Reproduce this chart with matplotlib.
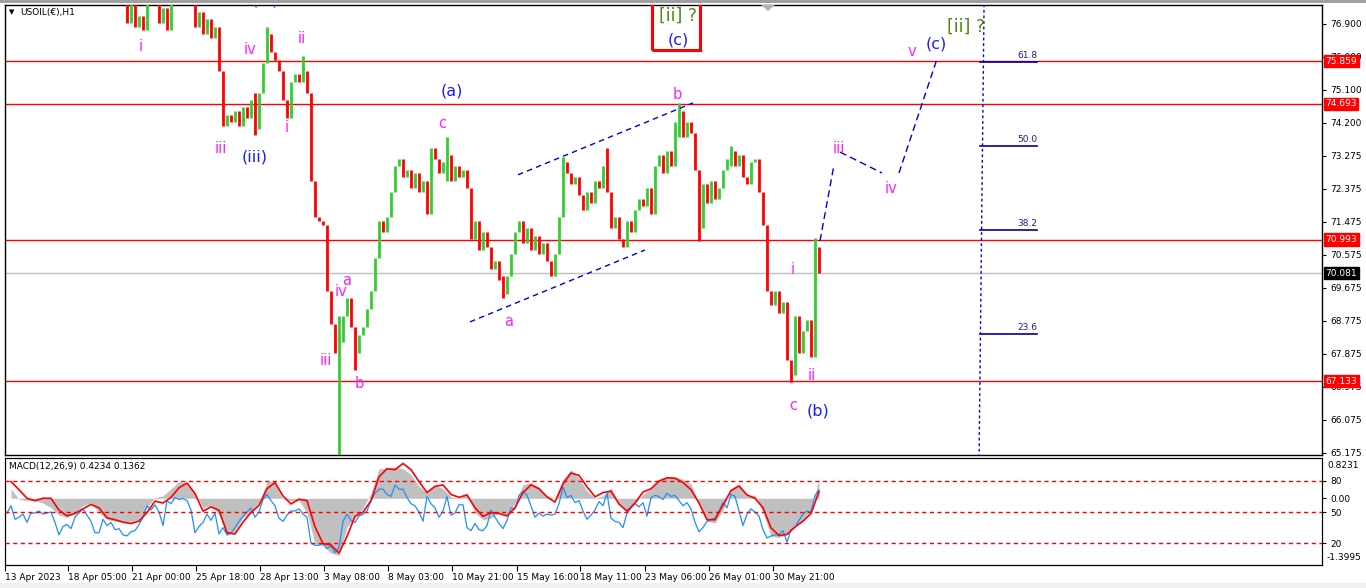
"""USOIL(€) H1 Elliott-wave chart with MACD panel, MT4 look."""

import matplotlib

matplotlib.use("Agg")
import matplotlib.pyplot as plt  # noqa: E402
import numpy as np  # noqa: E402
from matplotlib.collections import LineCollection  # noqa: E402
from matplotlib.patches import Polygon, Rectangle  # noqa: E402
from matplotlib.transforms import blended_transform_factory  # noqa: E402

# ---- data (one bar = 4 hourly candles) ---------------------------------
closes = [
    78.6, 78.9, 78.4, 78.7, 79.0, 78.8, 78.5, 78.9, 79.1, 78.7,
    78.4, 78.8, 78.6, 78.3, 78.7, 78.9, 78.5, 78.2, 78.6, 78.4,
    78.1, 78.5, 78.3, 78.0, 78.4, 78.2, 77.9, 78.3, 78.1, 77.8,
    76.9, 77.5, 76.8, 77.1, 76.7, 77.6, 77.9, 77.8, 76.9, 77.3,
    76.7, 77.6, 78.0, 77.9, 78.1, 77.8, 77.6, 76.8, 77.2, 76.6,
    77.0, 76.5, 76.8, 75.6, 74.1, 74.4, 74.2, 74.5, 74.1, 74.6,
    74.3, 74.8, 74.0, 75.0, 75.8, 76.6, 76.1, 75.9, 75.6, 74.8,
    74.3, 75.3, 75.5, 75.3, 75.6, 75.0, 72.6, 71.6, 71.5, 71.4,
    69.6, 68.7, 67.9, 68.2, 68.9, 69.4, 68.6, 67.9, 68.4, 68.6,
    69.1, 69.6, 70.5, 71.5, 71.2, 71.6, 72.3, 73.0, 73.2, 72.7,
    72.9, 72.4, 72.8, 72.3, 72.6, 71.7, 73.5, 73.2, 72.8, 73.1,
    73.3, 72.6, 73.0, 72.7, 72.9, 72.4, 71.0, 71.5, 70.7, 71.2,
    70.8, 70.2, 70.4, 69.9, 69.5, 70.0, 70.6, 71.2, 71.5, 70.9,
    71.3, 70.7, 71.1, 70.6, 70.9, 70.4, 70.0, 70.6, 71.6, 73.1,
    72.8, 72.5, 72.7, 72.2, 71.8, 72.3, 72.0, 72.6, 72.4, 73.0,
    72.3, 71.3, 71.6, 71.0, 70.8, 71.5, 71.2, 71.8, 72.1, 71.9,
    72.4, 71.7, 73.0, 73.3, 72.8, 73.4, 73.0, 74.2, 74.5, 73.8,
    74.2, 73.9, 72.9, 71.3, 72.5, 72.0, 72.6, 72.1, 72.4, 72.9,
    73.2, 73.4, 73.0, 73.3, 72.7, 72.5, 73.1, 73.2, 72.3, 71.4,
    69.6, 69.2, 69.6, 69.0, 69.3, 67.7, 67.3, 68.9, 67.9, 68.5,
    68.8, 67.8, 70.8, 70.08,
]
# notable wicks: bar index, low, high
wick_idx = [62, 65, 74, 83, 87, 110, 124, 139, 150, 168, 173, 181, 196, 202]
wick_lo = [73.85, 75.8, 75.3, 65.10, 67.44, 72.6, 69.40, 71.6, 72.3, 73.8, 70.95, 73.0, 67.12, 67.8]
wick_hi = [75.0, 76.8, 76.0, 68.9, 68.6, 73.79, 70.0, 73.25, 73.5, 74.72, 72.9, 73.55, 67.7, 71.05]

# MACD(12,26,9): main (grey histogram) and signal (red), one value per 2 bars
macd_main = [
    0.2, -0.02, -0.05, -0.05, -0.1, -0.2, -0.35, -0.4, -0.3, -0.15,
    -0.1, -0.3, -0.45, -0.48, -0.5, -0.5, -0.45, -0.2, 0.02, 0.05,
    0.2, 0.35, 0.32, 0.1, -0.2, -0.15, -0.35, -0.78, -0.7, -0.4,
    -0.3, -0.1, 0.35, 0.35, -0.02, -0.05, -0.05, -0.3, -0.95, -1.0,
    -1.15, -1.2, -0.6, -0.4, -0.2, 0.1, 0.62, 0.63, 0.65, 0.62,
    0.5, 0.25, 0.12, 0.28, 0.2, 0.03, 0.0, 0.1, -0.3, -0.45,
    -0.42, -0.3, -0.35, -0.1, 0.28, 0.33, 0.23, 0.05, 0.0, 0.4,
    0.6, 0.42, 0.15, 0.0, 0.05, 0.22, -0.1, -0.3, -0.1, 0.08,
    0.2, 0.4, 0.45, 0.45, 0.4, 0.3, -0.1, -0.48, -0.52, -0.25,
    0.2, 0.3, 0.05, 0.07, -0.3, -0.8, -0.82, -0.75, -0.55, -0.45,
    -0.25, 0.42,
]
macd_signal = [
    0.35, 0.18, 0.0, -0.05, 0.0, 0.0, -0.25, -0.37, -0.32, -0.22,
    -0.13, -0.2, -0.41, -0.45, -0.5, -0.53, -0.48, -0.3, -0.06, -0.1,
    0.02, 0.22, 0.32, 0.1, -0.27, -0.18, -0.25, -0.72, -0.75, -0.5,
    -0.3, -0.15, 0.2, 0.33, 0.05, -0.12, -0.02, -0.05, -0.6, -0.95,
    -0.98, -1.15, -0.8, -0.38, -0.29, -0.05, 0.45, 0.62, 0.6, 0.73,
    0.6, 0.35, 0.12, 0.25, 0.28, 0.08, 0.02, 0.07, -0.2, -0.38,
    -0.3, -0.32, -0.37, -0.2, 0.12, 0.28, 0.2, 0.03, -0.08, 0.3,
    0.53, 0.48, 0.24, 0.03, 0.12, 0.15, -0.12, -0.27, -0.1, 0.13,
    0.2, 0.36, 0.43, 0.42, 0.33, 0.18, -0.1, -0.45, -0.45, -0.14,
    0.16, 0.26, 0.07, 0.0, -0.2, -0.62, -0.78, -0.76, -0.6, -0.48,
    -0.32, 0.14,
]
# 0-100 oscillator (blue), one value per bar
osc = [
    49, 56, 43, 45, 48, 40, 49, 49, 51, 48,
    49, 50, 40, 28, 36, 38, 34, 45, 49, 53,
    47, 41, 30, 30, 43, 37, 40, 33, 34, 28,
    27, 31, 32, 38, 45, 56, 52, 57, 50, 37,
    61, 58, 64, 62, 63, 61, 52, 30, 36, 40,
    48, 42, 49, 29, 35, 28, 30, 35, 41, 46,
    50, 54, 45, 50, 62, 67, 61, 56, 44, 41,
    47, 51, 51, 53, 48, 45, 20, 18, 18, 20,
    15, 17, 11, 16, 41, 48, 42, 40, 46, 48,
    51, 61, 68, 72, 72, 67, 65, 76, 72, 72,
    64, 58, 56, 50, 41, 65, 58, 54, 45, 51,
    65, 47, 49, 57, 57, 35, 32, 39, 33, 32,
    37, 52, 45, 39, 34, 42, 54, 53, 66, 70,
    66, 56, 45, 49, 46, 48, 47, 48, 58, 74,
    64, 66, 59, 61, 51, 43, 47, 52, 60, 56,
    68, 44, 41, 40, 35, 49, 54, 58, 55, 59,
    46, 64, 66, 65, 62, 68, 65, 66, 61, 56,
    59, 53, 40, 31, 35, 41, 43, 44, 51, 59,
    54, 67, 65, 51, 37, 48, 53, 50, 46, 33,
    25, 27, 28, 28, 32, 21, 33, 35, 42, 48,
    51, 50, 66, 71,
]
osc_levels = [80, 50, 20]

price_ticks = ["65.175", "66.075", "66.975", "67.875", "68.775", "69.675", "70.575",
               "71.475", "72.375", "73.275", "74.200", "75.100", "76.000", "76.900"]
red_levels = [75.859, 74.693, 70.993, 67.133]
last_price = 70.081

time_labels = ["13 Apr 2023", "18 Apr 05:00", "21 Apr 00:00", "25 Apr 18:00",
               "28 Apr 13:00", "3 May 08:00", "8 May 03:00", "10 May 21:00",
               "15 May 16:00", "18 May 11:00", "23 May 06:00", "26 May 01:00",
               "30 May 21:00"]
time_pos = [-0.5, 15.25, 31.25, 47.25, 63.25, 79.25, 95.25, 111.25, 127.5,
            143.25, 159.5, 175.5, 191.5]

fib_low, fib_high = 63.85, 83.25
fib_ratios = [0.236, 0.382, 0.5, 0.618]

# wave labels: text, bar position, price, colour key
MAG, BLU, OLV = "#ff22ff", "#1a1aff", "#4f8a12"
wave_labels = [
    ("i", 33.5, 76.25, MAG), ("iii", 53.5, 73.49, MAG), ("iv", 60.75, 76.17, MAG),
    ("ii", 73.75, 76.49, MAG), ("i", 70, 74.04, MAG), ("iii", 79.75, 67.71, MAG),
    ("iv", 83.5, 69.59, MAG), ("a", 85, 69.87, MAG), ("b", 88, 67.06, MAG),
    ("c", 108.75, 74.15, MAG), ("a", 125.5, 68.75, MAG), ("b", 167.5, 74.94, MAG),
    ("i", 196.5, 70.17, MAG), ("ii", 201.25, 67.30, MAG), ("c", 196.5, 66.46, MAG),
    ("iii", 208, 73.49, MAG), ("iv", 221, 72.40, MAG), ("v", 226.25, 76.11, MAG),
    ("(iv) ?", 66.25, 77.53, BLU), ("(iii)", 62, 73.25, BLU), ("(a)", 111.25, 75.05, BLU),
    ("(c)", 167.75, 76.44, BLU), ("(b)", 202.75, 66.32, BLU), ("(c)", 232.25, 76.33, BLU),
    ("[ii] ?", 167.75, 77.09, OLV), ("[ii] ?", 239.75, 76.79, OLV),
]
channel_upper = [(127.75, 72.76), (171.5, 74.72)]
channel_lower = [(115.75, 68.75), (159.5, 70.71)]
projection = [
    [(203.25, 70.96), (206.75, 73.03)],
    [(208.25, 73.38), (218.75, 72.81)],
    [(223.0, 72.81), (232.5, 75.92)],
]

# ---- figure -------------------------------------------------------------
W, H = 1366, 588
plt.rcParams["font.family"] = ["DejaVu Sans"]
fig = plt.figure(figsize=(W / 100, H / 100), dpi=100)
fig.patch.set_facecolor("white")


def fx(px):
    return px / W


def fy(py):
    return 1 - py / H


ax = fig.add_axes([fx(5), fy(455), fx(1322) - fx(5), fy(5) - fy(455)])
axm = fig.add_axes([fx(5), fy(565), fx(1322) - fx(5), fy(458) - fy(565)])
XLIM = (-0.5, 328.75)

# price bars
c = np.array(closes)
o = np.concatenate([[c[0]], c[:-1]])
lo = np.minimum(o, c)
hi = np.maximum(o, c)
for k, w in enumerate(wick_idx):
    lo[w] = min(lo[w], wick_lo[k])
    hi[w] = max(hi[w], wick_hi[k])
xs = np.arange(len(c))
segs = [[(x, l), (x, h)] for x, l, h in zip(xs, lo, hi)]
cols = ["#32cd32" if cc >= oo else "#ff0000" for oo, cc in zip(o, c)]
ax.add_collection(LineCollection(segs, colors=cols, linewidths=2.0, zorder=3))

for lv in red_levels:
    ax.axhline(lv, color="#ff0000", lw=1, zorder=2)
ax.axhline(last_price, color="#c0c0c0", lw=1, zorder=1)

for line in (channel_upper, channel_lower):
    (x0, y0), (x1, y1) = line
    ax.plot([x0, x1], [y0, y1], color="#0000e0", lw=1, ls=(0, (4, 3)), zorder=4)
for seg in projection:
    (x0, y0), (x1, y1) = seg
    ax.plot([x0, x1], [y0, y1], color="#0000e0", lw=1, ls=(0, (5, 3)), zorder=4)

# fibonacci
ax.plot([242.9, 244.85], [fib_low, fib_high], color="#0000ff", lw=1, ls=(0, (2, 2)), zorder=4)
for r in fib_ratios:
    lv = fib_low + r * (fib_high - fib_low)
    ax.plot([243.2, 257.5], [lv, lv], color="#0000a0", lw=1.2, zorder=4)
    ax.text(257.5, lv + 0.04, f"{r * 100:.1f}", color="#1c1c9c", fontsize=6.5,
            ha="right", va="bottom", zorder=5)

# red box around the [ii] ? / (c) label
ax.add_patch(Rectangle((161.25, 76.17), 12.0, 1.4, fill=False, ec="#ff0000",
                       lw=2.2, zorder=5))

for txt, x, y, col in wave_labels:
    size = 12.5 if col == OLV else (11.5 if col == BLU else 10.5)
    ax.text(x, y, txt, color=col, fontsize=size, ha="center", va="center",
            clip_on=True, zorder=6)

ax.set_xlim(*XLIM)
ax.set_ylim(65.12, 77.39)
ax.set_xticks([])
ax.yaxis.tick_right()
ax.set_yticks(65.175 + 0.9 * np.arange(len(price_ticks)))
ax.set_yticklabels(price_ticks)
ax.tick_params(axis="y", direction="out", length=3, width=0.8, pad=3, labelsize=6.5)
for sp in ax.spines.values():
    sp.set_linewidth(1)

tr = blended_transform_factory(ax.transAxes, ax.transData)
for lv in red_levels:
    ax.text(1.0025, lv, f"{lv:.3f}", transform=tr, color="white", fontsize=6.5,
            ha="left", va="center", zorder=10, clip_on=False,
            bbox=dict(boxstyle="square,pad=0.18", fc="#ff0000", ec="#ff0000"))
ax.text(1.0025, last_price, f"{last_price:.3f}", transform=tr, color="white",
        fontsize=6.5, ha="left", va="center", zorder=10, clip_on=False,
        bbox=dict(boxstyle="square,pad=0.18", fc="black", ec="black"))

# ---- MACD panel -------------------------------------------------------
xm = np.arange(1, 2 * len(macd_main), 2)
axm.fill_between(xm, 0, macd_main, color="#c0c0c0", lw=0, zorder=1)
axm.set_xlim(*XLIM)
axm.set_ylim(-1.40, 0.845)

axs = axm.twinx()
axs.plot(np.arange(len(osc)), osc, color="#1e90ff", lw=0.9, zorder=2)
for lv in osc_levels:
    axs.axhline(lv, color="#ff0000", lw=1, ls=(0, (3, 2.5)), zorder=3)
axs.plot(xm, macd_signal, color="#ff0000", lw=1.2, transform=axm.transData, zorder=4)
axs.set_ylim(-1, 102)
axs.set_xlim(*XLIM)
axs.set_yticks(osc_levels)
axs.set_yticklabels([str(v) for v in osc_levels])

# twinx moves the host ticks to the left; put them back on the right
axm.yaxis.tick_right()
axm.set_yticks([0.0])
axm.set_yticklabels(["0.00"])
for a in (axm, axs):
    a.tick_params(axis="y", direction="out", length=3, width=0.8, pad=3, labelsize=6.5)

axm.set_xticks(time_pos)
axm.set_xticklabels(time_labels)
axm.tick_params(axis="x", direction="out", length=4, width=0.8, pad=2, labelsize=6.5)
for lbl in axm.get_xticklabels():
    lbl.set_ha("left")

fig.text(fx(1327), fy(465), "0.8231", fontsize=6.5, ha="left", va="center")
fig.text(fx(1327), fy(558), "-1.3995", fontsize=6.5, ha="left", va="center")
fig.text(fx(9), fy(467), "MACD(12,26,9) 0.4234 0.1362", fontsize=6.5, ha="left", va="center")

# header and window chrome
fig.text(fx(9), fy(12), "▼", fontsize=5, ha="left", va="center")
fig.text(fx(20), fy(12), "USOIL(€),H1", fontsize=6.5, ha="left", va="center")
fig.add_artist(Rectangle((0, fy(3)), 1, 3 / H, transform=fig.transFigure,
                         fc="#a0a0a0", ec="none"))
fig.add_artist(Rectangle((0, 0), 1, 5 / H, transform=fig.transFigure,
                         fc="#f0f0f0", ec="none"))
fig.add_artist(Polygon([(fx(761), fy(5)), (fx(775), fy(5)), (fx(768), fy(11))],
                       closed=True, transform=fig.transFigure, fc="#b4b4b4", ec="none"))

fig.savefig("out.png", dpi=100)
